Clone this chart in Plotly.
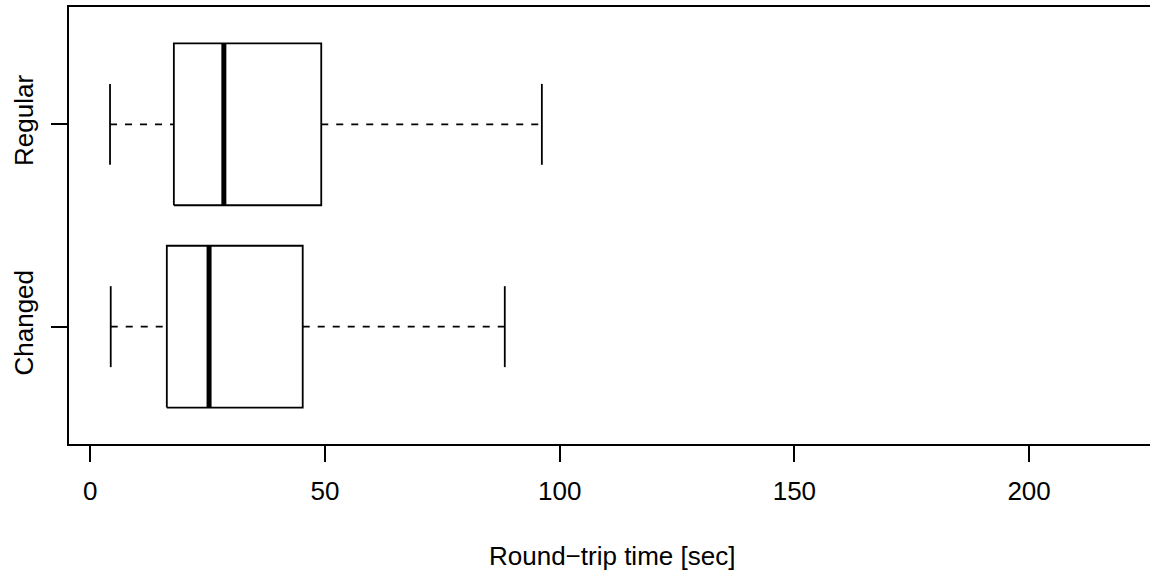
import plotly.graph_objects as go

# ---- data ----
groups = ["Changed", "Regular"]
positions = [1, 2]
lower_whisker = [4.35, 4.2]
q1 = [16.3, 17.8]
median = [25.3, 28.45]
q3 = [45.25, 49.2]
upper_whisker = [88.3, 96.2]

x_ticks = [0, 50, 100, 150, 200]
x_title = "Round\u2212trip time [sec]"

BOX_HALF = 0.4
CAP_HALF = 0.2
FONT = "Liberation Sans, Arial, Helvetica, sans-serif"
LW = 1.8
FS = 26

fig = go.Figure()

for g, p, lo, a, m, b, hi in zip(groups, positions, lower_whisker, q1, median, q3, upper_whisker):
    # box
    fig.add_trace(go.Scatter(
        x=[a, b, b, a, a], y=[p - BOX_HALF, p - BOX_HALF, p + BOX_HALF, p + BOX_HALF, p - BOX_HALF],
        mode="lines", line=dict(color="black", width=LW), hoverinfo="skip", showlegend=False))
    # median
    fig.add_trace(go.Scatter(
        x=[m, m], y=[p - BOX_HALF, p + BOX_HALF], mode="lines",
        line=dict(color="black", width=5), name=g, showlegend=False))
    # whiskers (dashed)
    fig.add_trace(go.Scatter(
        x=[lo, a], y=[p, p], mode="lines",
        line=dict(color="black", width=LW, dash="7px,8px"), hoverinfo="skip", showlegend=False))
    fig.add_trace(go.Scatter(
        x=[b, hi], y=[p, p], mode="lines",
        line=dict(color="black", width=LW, dash="7px,8px"), hoverinfo="skip", showlegend=False))
    # staples
    for v in (lo, hi):
        fig.add_trace(go.Scatter(
            x=[v, v], y=[p - CAP_HALF, p + CAP_HALF], mode="lines",
            line=dict(color="black", width=LW), hoverinfo="skip", showlegend=False))

fig.update_layout(
    width=1150, height=574,
    margin=dict(l=69, r=0, t=7, b=130),
    paper_bgcolor="white", plot_bgcolor="white",
    font=dict(family=FONT, size=FS, color="black"),
    xaxis=dict(
        range=[-4.54, 225.76], tickvals=x_ticks, ticktext=[str(t) for t in x_ticks],
        showgrid=False, zeroline=False, showline=True, mirror=True,
        linecolor="black", linewidth=LW,
        ticks="outside", ticklen=16, tickwidth=LW, tickcolor="black",
        ticklabelstandoff=7,
    ),
    yaxis=dict(
        range=[0.42, 2.58], tickvals=positions, ticktext=groups, tickangle=-90,
        showgrid=False, zeroline=False, showline=True, mirror=False,
        linecolor="black", linewidth=LW,
        ticks="outside", ticklen=16, tickwidth=LW, tickcolor="black",
        ticklabelstandoff=8,
    ),
    annotations=[dict(
        text=x_title, xref="paper", yref="paper", x=0.502, y=-0.2556,
        xanchor="center", yanchor="middle", showarrow=False,
        font=dict(family=FONT, size=FS, color="black"))],
)

fig.write_html("out.html")
